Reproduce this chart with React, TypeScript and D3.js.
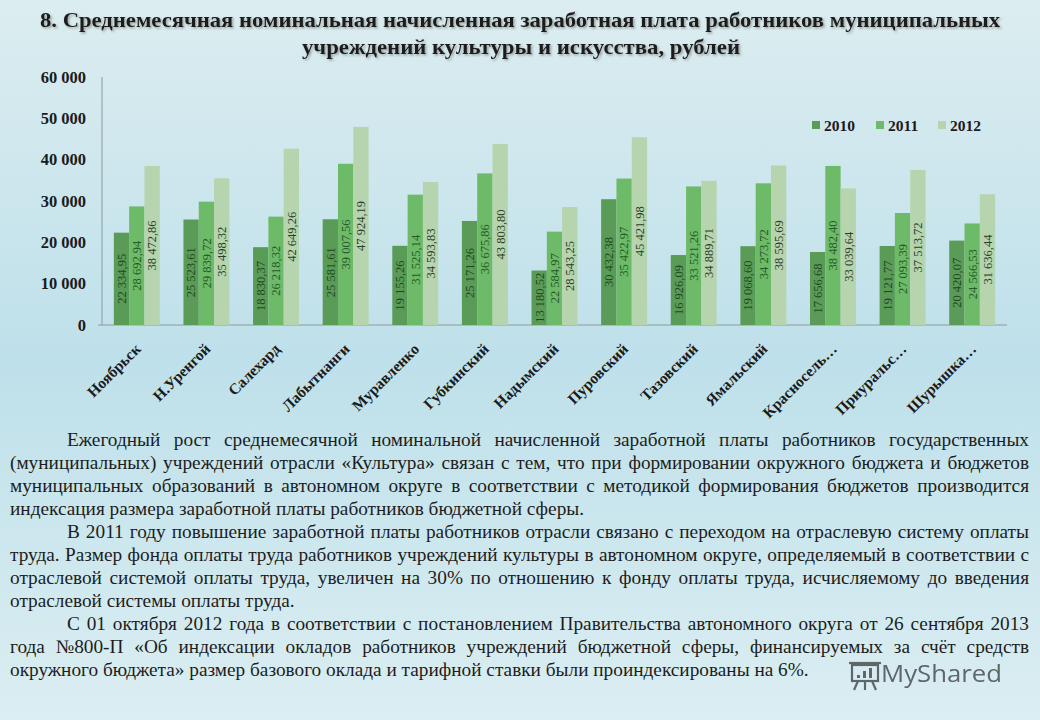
import React, { useEffect, useRef, useState } from "react";
import * as d3 from "d3";

const categories = ["Ноябрьск", "Н.Уренгой", "Салехард", "Лабытнанги", "Муравленко", "Губкинский", "Надымский", "Пуровский", "Тазовский", "Ямальский", "Красносель…", "Приуральс…", "Шурышка…"];
const years = ["2010", "2011", "2012"];
const values2010 = [22334.95, 25523.61, 18830.37, 25581.61, 19155.26, 25171.26, 13180.52, 30432.38, 16926.09, 19068.60, 17656.68, 19121.77, 20420.07];
const values2011 = [28692.94, 29839.72, 26218.32, 39007.56, 31525.14, 36675.86, 22584.97, 35422.97, 33521.26, 34273.72, 38482.40, 27093.39, 24566.53];
const values2012 = [38472.86, 35498.32, 42649.26, 47924.19, 34593.83, 43803.80, 28543.25, 45421.98, 34889.71, 38595.69, 33039.64, 37513.72, 31636.44];
const yTicks = [0, 10000, 20000, 30000, 40000, 50000, 60000];

const titleLines = [
  "8. Среднемесячная номинальная начисленная заработная плата работников муниципальных",
  "учреждений культуры и искусства, рублей",
];

const paragraphLines = [
  { t: "Ежегодный рост среднемесячной номинальной начисленной заработной платы работников государственных", indent: true, justify: true },
  { t: "(муниципальных) учреждений отрасли «Культура» связан с тем, что при формировании окружного бюджета и бюджетов", indent: false, justify: true },
  { t: "муниципальных образований в автономном округе в соответствии с методикой формирования бюджетов производится", indent: false, justify: true },
  { t: "индексация размера заработной платы работников бюджетной сферы.", indent: false, justify: false },
  { t: "В 2011 году повышение заработной платы работников отрасли связано с переходом на отраслевую систему оплаты", indent: true, justify: true },
  { t: "труда. Размер фонда оплаты труда работников учреждений культуры в автономном округе, определяемый в соответствии с", indent: false, justify: true },
  { t: "отраслевой системой оплаты труда, увеличен на 30% по отношению к фонду оплаты труда, исчисляемому до введения", indent: false, justify: true },
  { t: "отраслевой системы оплаты труда.", indent: false, justify: false },
  { t: "С 01 октября 2012 года в соответствии с постановлением Правительства автономного округа от 26 сентября 2013", indent: true, justify: true },
  { t: "года №800-П «Об индексации окладов работников учреждений бюджетной сферы, финансируемых за счёт средств", indent: false, justify: true },
  { t: "окружного бюджета» размер базового оклада и тарифной ставки были проиндексированы на 6%.", indent: false, justify: false },
];

const seriesColors = ["#5b9b58", "#6dba69", "#b6d5ae"];
const labelColors = ["#1e4a1e", "#275a27", "#2c3d2c"];

const W = 1040;
const H = 720;
const plot = { left: 102, right: 1007, top: 77, bottom: 325 };
const serif = "Liberation Serif, DejaVu Serif, serif";

const locale = d3.formatLocale({ decimal: ",", thousands: "\u00a0", grouping: [3], currency: ["", ""] });
const fmtVal = locale.format(",.2f");
const fmtTick = locale.format(",d");

export default function App() {
  const series = [values2010, values2011, values2012];
  const x = d3.scaleBand<string>().domain(categories).range([plot.left, plot.right]).paddingInner(0.34).paddingOuter(0.17);
  const xs = d3.scaleBand<string>().domain(years).range([0, x.bandwidth()]);
  const y = d3.scaleLinear().domain([0, 60000]).range([plot.bottom, plot.top]);

  const lineRefs = useRef<(SVGTextElement | null)[]>([]);
  const [spacing, setSpacing] = useState<number[]>(paragraphLines.map(() => 0));
  const paraLeft = 10;
  const paraRight = 1029;
  const indentX = 67;
  const paraTop = 446;
  const lineH = 23;

  useEffect(() => {
    const measure = () => {
      const sp = paragraphLines.map((l, i) => {
        const el = lineRefs.current[i];
        if (!el || !l.justify) return 0;
        const w = el.getComputedTextLength();
        const start = l.indent ? indentX : paraLeft;
        const n = (l.t.match(/ /g) || []).length;
        return n > 0 ? (paraRight - start - w) / n : 0;
      });
      setSpacing(sp);
    };
    if ((document as any).fonts && (document as any).fonts.ready) {
      (document as any).fonts.ready.then(measure);
    } else measure();
  }, []);

  return (
    <svg width={W} height={H} style={{ position: "absolute", left: 0, top: 0, fontFamily: serif }} xmlns="http://www.w3.org/2000/svg">
      <defs>
        <linearGradient id="bg" x1="0" y1="0" x2="0" y2="1">
          <stop offset="0" stopColor="#dcedf0" />
          <stop offset="0.5" stopColor="#bee0ea" />
          <stop offset="1" stopColor="#dbeef2" />
        </linearGradient>
        <filter id="shadow" x="-5%" y="-30%" width="110%" height="160%">
          <feDropShadow dx="1.5" dy="1.5" stdDeviation="1" floodColor="#6a6a6a" floodOpacity="0.6" />
        </filter>
      </defs>
      <rect x={0} y={0} width={W} height={H} fill="url(#bg)" />

      {/* Title */}
      <g filter="url(#shadow)" style={{ fontFamily: serif }} fontWeight="bold" fontSize={22} fill="#1b1b1b">
        <text x={40} y={27} textLength={960} lengthAdjust="spacingAndGlyphs">{titleLines[0]}</text>
        <text x={302} y={54} textLength={438} lengthAdjust="spacingAndGlyphs">{titleLines[1]}</text>
      </g>

      {/* Axes */}
      <line x1={plot.left} x2={plot.left} y1={plot.top} y2={plot.bottom} stroke="#8a9a9e" strokeWidth={1} />
      <line x1={plot.left - 4} x2={plot.right} y1={plot.bottom} y2={plot.bottom} stroke="#8a9a9e" strokeWidth={1} />
      {yTicks.map((t) => (
        <text key={t} x={86} y={y(t)} dy="0.35em" textAnchor="end" style={{ fontFamily: serif }} fontWeight="bold" fontSize={16.5} fill="#1b1b1b">
          {fmtTick(t)}
        </text>
      ))}

      {/* Bars */}
      {series.map((vals, si) => (
        <g key={years[si]}>
          {vals.map((v, ci) => {
            const bx = (x(categories[ci]) as number) + (xs(years[si]) as number);
            const bw = xs.bandwidth();
            const top = y(v);
            return (
              <rect key={ci} x={bx} y={top} width={bw} height={plot.bottom - top} fill={seriesColors[si]} />
            );
          })}
        </g>
      ))}

      {/* Data labels */}
      {series.map((vals, si) => (
        <g key={"l" + years[si]}>
          {vals.map((v, ci) => {
            const cx = (x(categories[ci]) as number) + (xs(years[si]) as number) + xs.bandwidth() / 2;
            const cy = (y(v) + plot.bottom) / 2;
            return (
              <text key={ci} transform={`translate(${cx},${cy}) rotate(-90)`} textAnchor="middle" dy="0.35em" style={{ fontFamily: serif }} fontSize={12.5} fill={labelColors[si]}>
                {fmtVal(v)}
              </text>
            );
          })}
        </g>
      ))}

      {/* Category labels */}
      {categories.map((c) => {
        const cx = (x(c) as number) + x.bandwidth() / 2;
        return (
          <text key={c} transform={`translate(${cx + 5},${plot.bottom + 25}) rotate(-45)`} textAnchor="end" style={{ fontFamily: serif }} fontWeight="bold" fontSize={15.5} fill="#1b1b1b">
            {c}
          </text>
        );
      })}

      {/* Legend */}
      {years.map((yr, i) => {
        const lx = [812, 876, 938][i];
        return (
          <g key={yr}>
            <rect x={lx} y={121} width={8} height={8} fill={seriesColors[i]} />
            <text x={lx + 12} y={131} style={{ fontFamily: serif }} fontWeight="bold" fontSize={15.5} fill="#1b1b1b">{yr}</text>
          </g>
        );
      })}

      {/* Paragraph */}
      <g style={{ fontFamily: serif }} fontSize={19.3} fill="#1d1d1d">
        {paragraphLines.map((l, i) => (
          <text
            key={i}
            ref={(el) => { lineRefs.current[i] = el; }}
            x={l.indent ? indentX : paraLeft}
            y={paraTop + i * lineH}
            wordSpacing={spacing[i]}
            style={{ whiteSpace: "pre", fontFamily: serif }}
          >
            {l.t}
          </text>
        ))}
      </g>

      {/* Watermark */}
      <g opacity={0.85}>
        <g stroke="#4a4f52" strokeWidth={2.2} fill="none">
          <rect x={852} y={665} width={26} height={16} />
          <line x1={849} y1={663} x2={881} y2={663} />
          <line x1={858} y1={681} x2={854} y2={690} />
          <line x1={865} y1={681} x2={865} y2={690} />
          <line x1={872} y1={681} x2={876} y2={690} />
        </g>
        <g fill="#4a4f52">
          <rect x={857} y={675} width={3} height={3} />
          <rect x={863} y={671} width={3} height={7} />
          <rect x={869} y={668} width={3} height={10} />
        </g>
        <text x={881} y={682} style={{ fontFamily: "Open Sans, sans-serif" }} fontSize={23} fill="#4a4f52" textLength={121} lengthAdjust="spacingAndGlyphs">MyShared</text>
      </g>
    </svg>
  );
}
